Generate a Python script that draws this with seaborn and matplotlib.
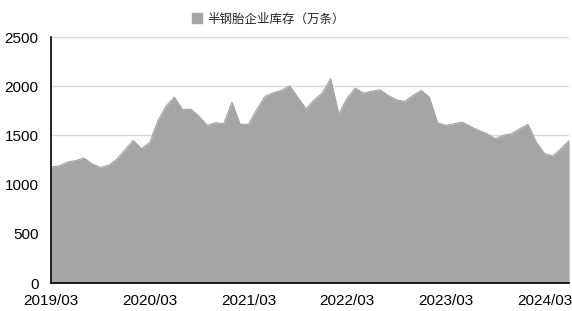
import numpy as np
import pandas as pd
import seaborn as sns
from matplotlib import pyplot as plt
from matplotlib.patches import Patch

# monthly inventory, 2019/03 .. 2024/06 (万条)
inventory = [
    1180, 1190, 1230, 1245, 1270, 1210, 1175, 1195, 1260, 1355,
    1450, 1365, 1430, 1650, 1800, 1890, 1760, 1768, 1693, 1602, 1629, 1619,
    1838, 1612, 1612, 1761, 1896, 1933, 1957, 2004, 1890, 1771, 1862, 1933,
    2078, 1716, 1880, 1980, 1930, 1950, 1964, 1906, 1862, 1845, 1906, 1957,
    1890, 1629, 1602, 1619, 1636, 1592, 1551, 1518, 1467, 1500, 1518, 1568,
    1612, 1433, 1315, 1291, 1366, 1450,
]
tick_labels = ["2019/03", "2020/03", "2021/03", "2022/03", "2023/03", "2024/03"]
series_name = "半钢胎企业库存（万条）"

df = pd.DataFrame({"month": np.arange(len(inventory)), "value": inventory})

sns.set_style("white")
plt.rcParams['font.family'] = ['Liberation Sans', 'Noto Sans CJK SC', 'DejaVu Sans']

fill = "#a5a5a5"
fig = plt.figure(figsize=(5.72, 3.11), dpi=100)
ax = fig.add_axes([0.0892, 0.09, 0.9058, 0.791])

sns.lineplot(data=df, x="month", y="value", ax=ax, color=fill, linewidth=0.8)
ax.fill_between(df["month"], 0, df["value"], color=fill, linewidth=0)

ax.set_xlim(0, len(inventory) - 1)
ax.set_ylim(0, 2500)
ax.set_yticks(range(0, 2501, 500))
ax.set_xticks(range(0, len(inventory), 12))
ax.set_xticklabels(tick_labels)
ax.set_xlabel("")
ax.set_ylabel("")

for y in range(500, 2501, 500):
    ax.axhline(y, color="#d9d9d9", linewidth=1, zorder=0)

for s in ["top", "right"]:
    ax.spines[s].set_visible(False)
for s in ["left", "bottom"]:
    ax.spines[s].set_color("black")
    ax.spines[s].set_linewidth(1.2)

ax.tick_params(axis="both", direction="in", length=4, width=1.2, color="black",
               labelsize=11, labelcolor="black")
ax.tick_params(axis="y", pad=9)
ax.tick_params(axis="x", pad=8)

handle = Patch(facecolor=fill, edgecolor=fill)
fig.legend([handle], [series_name], loc="center", bbox_to_anchor=(0.469, 0.939),
           frameon=False, prop={"family": ["Noto Sans CJK SC"], "size": 9},
           handlelength=0.8, handleheight=0.8, handletextpad=0.4)

fig.savefig("out.png", dpi=100)
